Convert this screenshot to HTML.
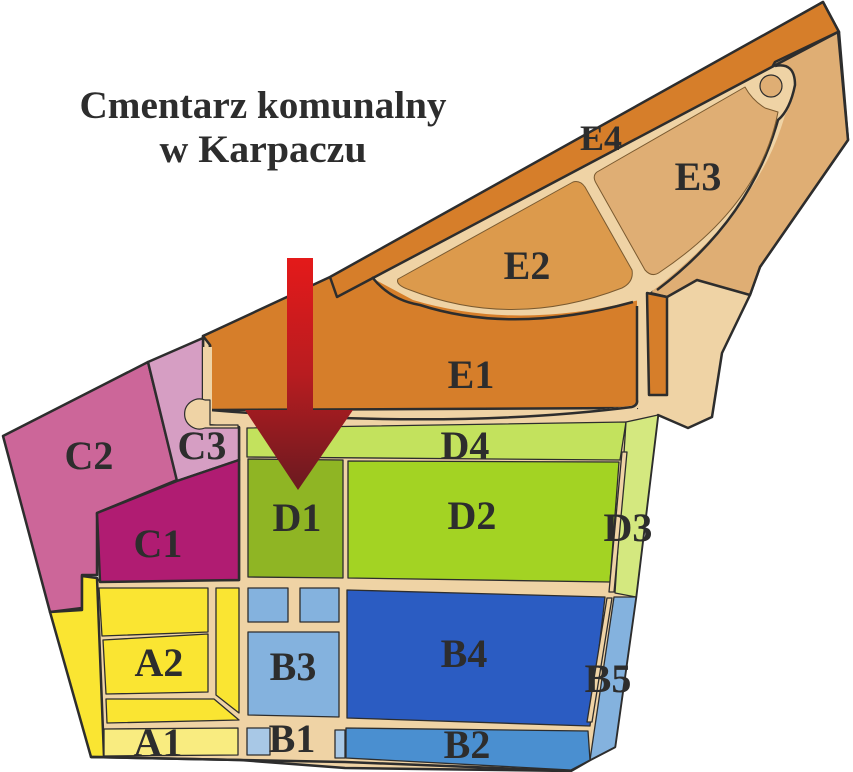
<!DOCTYPE html>
<html><head><meta charset="utf-8"><style>
html,body{margin:0;padding:0;background:#fff;}
svg{display:block;}
text{font-family:"Liberation Serif",serif;font-weight:bold;fill:#2d2d2d;}
</style></head><body>
<svg width="853" height="772" viewBox="0 0 853 772" xmlns="http://www.w3.org/2000/svg">
<defs>
<linearGradient id="ar" x1="0" y1="0" x2="0" y2="1">
<stop offset="0" stop-color="#e41a1a"/><stop offset="0.5" stop-color="#b81c20"/><stop offset="1" stop-color="#6a1a20"/>
</linearGradient>
</defs>
<g stroke="#2d2d2d" stroke-width="2.5" stroke-linejoin="round">
<polygon fill="#efd3a5" points="203,336 330,282 823,2 839,32 848,140 760,267 750,295 722,353 712,417 688,428 658,415 636,597 615,747 590,760 571,771 345,768 240,760 91,757 97,580 239,580 239,427 203,425"/>
<polygon fill="#d67e2a" points="203,336 330,277 823,2 839,32 700,110 640,292 637,408 210,410 210,345"/>
<polygon fill="#dfae74" points="775,62 838,32 848,140 760,267 750,295 697,280 667,297 650,293 700,200"/>
<path fill="#efd3a5" stroke="none" d="M372,278 L768,68 Q795,58 795,85 Q792,105 785,115 Q760,205 660,285 L640,300 L630,302 Q513,330 413,300 Z"/>
<path fill="none" d="M372,277 Q390,300 420,305 Q513,335 633,302"/>
<path fill="none" d="M775,66 Q795,62 795,85 Q790,110 778,120 Q750,220 657,290"/>
<polyline fill="none" points="330,277 337,297 838,32"/>
<path fill="#efd3a5" stroke="none" d="M637,300 L650,294 L668,297 L660,410 L637,408 Z"/>
<polygon fill="#d67e2a" points="647,293 667,297 667,395 649,395"/>
<path fill="#efd3a5" stroke="none" d="M210,410 Q450,430 637,405 L637,420 L247,428 L210,424 Z"/>
<path fill="none" d="M210,345 L210,410 Q450,430 632,407 Q638,405 637,400 L637,306"/>
<path fill="#dc9a4c" stroke-width="1" stroke="#7a5a30" d="M398,279 L573,182 Q580,180 585,187 L632,270 Q634,282 622,288 Q513,330 410,290 Q395,285 398,279 Z"/>
<path fill="#dfae74" stroke-width="1" stroke="#7a5a30" d="M597,172 L745,87 Q752,100 765,108 L778,112 Q760,205 660,272 Q652,278 645,270 L596,183 Q592,176 597,172 Z"/>
<circle cx="771" cy="86" r="11" fill="#dfae74" stroke-width="1.2"/>
<polygon fill="#cc6699" points="3,436 148,362 177,480 97,513 97,575 82,575 82,608 50,612"/>
<polygon fill="#d69ec3" points="148,362 203,338 203,425 239,427 239,460 177,481"/>
<path fill="#efd3a5" stroke="none" d="M203,347 L212,347 L212,424 L203,424 Z"/>
<path fill="#efd3a5" stroke-width="1.2" d="M205,400 A15,15 0 1 0 205,428 L238,428 L238,425 L210,425 L210,400 Z"/>
<polygon fill="#b01c72" points="97,513 177,481 239,460 239,580 100,582"/>
<polygon fill="#fae532" points="50,612 82,610 82,576 97,578 104,757 91,757"/>
<g stroke-width="1.3">
<polygon fill="#fae532" points="99,588 208,588 208,632 102,636"/>
<polygon fill="#fae532" points="103,640 208,634 208,692 106,694"/>
<polygon fill="#fae532" points="216,588 239,588 239,713 216,695"/>
<polygon fill="#fae532" points="106,699 214,699 239,720 107,723"/>
<polygon fill="#f9ec80" points="104,729 238,728 238,755 104,756"/>
<polygon fill="#c3e25d" points="247,428 626,422 620,460 247,457"/>
<polygon fill="#8fb524" points="248,459 343,460 343,578 248,577"/>
<polygon fill="#a3d323" points="348,461 619,462 610,582 348,578"/>
<polygon fill="#d4e87f" points="626,422 658,415 636,597 615,593"/>
<polygon fill="#efd3a5" points="622,452 627,452 614,592 609,592"/>
<polygon fill="#84b2de" points="248,588 288,588 288,622 248,622"/>
<polygon fill="#84b2de" points="300,588 339,588 339,622 300,622"/>
<polygon fill="#84b2de" points="248,632 339,632 339,717 248,715"/>
<polygon fill="#2b5cc2" points="347,590 605,597 590,726 347,718"/>
<polygon fill="#84b2de" points="614,597 636,597 615,747 590,760"/>
<polygon fill="#efd3a5" points="607,598 612,598 592,722 587,722"/>
<polygon fill="#a8c8e6" points="247,728 270,728 270,755 247,755"/>
<polygon fill="#a8c8e6" points="335,730 345,730 345,758 335,758"/>
<polygon fill="#4a8fd0" points="346,728 588,731 590,760 571,770 346,758"/>
</g>
<polyline fill="none" points="91,757 240,760 345,762 571,771"/>
</g>
<polygon fill="url(#ar)" points="287,258 313,258 313,410 353,410 298,490 245,410 287,410"/>
<text x="263" y="118" font-size="39" text-anchor="middle" textLength="367" lengthAdjust="spacingAndGlyphs">Cmentarz komunalny</text>
<text x="263" y="162" font-size="39" text-anchor="middle" textLength="207" lengthAdjust="spacingAndGlyphs">w Karpaczu</text>
<g font-size="40" text-anchor="middle">
<text x="601" y="150" font-size="36">E4</text>
<text x="698" y="190">E3</text>
<text x="527" y="279">E2</text>
<text x="471" y="388">E1</text>
<text x="89" y="469">C2</text>
<text x="202" y="459">C3</text>
<text x="465" y="459">D4</text>
<text x="158" y="557">C1</text>
<text x="297" y="531">D1</text>
<text x="472" y="529">D2</text>
<text x="628" y="541">D3</text>
<text x="159" y="676">A2</text>
<text x="293" y="680">B3</text>
<text x="464" y="667">B4</text>
<text x="608" y="692">B5</text>
<text x="158" y="756">A1</text>
<text x="292" y="752">B1</text>
<text x="467" y="758">B2</text>
</g>
</svg>
</body></html>
